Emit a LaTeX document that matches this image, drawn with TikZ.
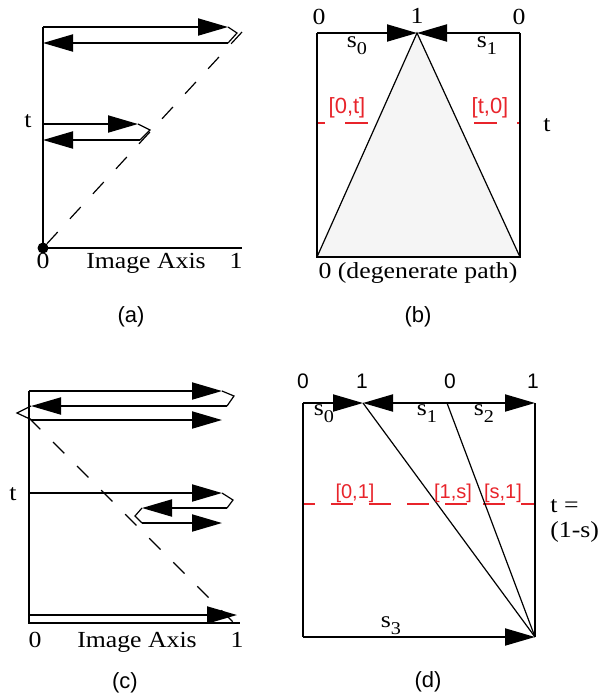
\documentclass[tikz,border=0pt]{standalone}
\usepackage{fontspec}
\setmainfont{Liberation Serif}[FakeStretch=1.12]
\setsansfont{Liberation Sans}
\usetikzlibrary{arrows.meta}
\definecolor{lblred}{RGB}{232,36,43}
\definecolor{trifill}{RGB}{245,245,245}
\newcommand\mysub[1]{\raisebox{-3.5pt}{\fontsize{9}{10}\selectfont #1}}
\begin{document}
\begin{tikzpicture}[x=0.5pt,y=-0.5pt,
  ln/.style={line width=1pt},
  thinln/.style={line width=0.6pt},
  arr/.style={line width=1pt,-{Triangle[length=15pt,width=8.5pt]}},
  axdash/.style={line width=0.6pt,dash pattern=on 8pt off 9pt},
  reddash/.style={line width=0.7pt,draw=lblred,dash pattern=on 11.5pt off 10pt,dash phase=7.5pt},
  reddashd/.style={line width=0.7pt,draw=lblred,dash pattern=on 11pt off 8pt,dash phase=5pt},
  serif/.style={font=\fontsize{11.5}{12}\selectfont,inner sep=0pt,anchor=base},
  sanslbl/.style={font=\sffamily\fontsize{10.5}{12}\selectfont,inner sep=0pt,anchor=base},
  redlbl/.style={font=\sffamily\fontsize{11}{12}\selectfont,text=lblred,inner sep=0pt,anchor=base},
  redlbld/.style={font=\sffamily\fontsize{10}{12}\selectfont,text=lblred,inner sep=0pt,anchor=base},
  caption/.style={font=\sffamily\fontsize{11}{12}\selectfont,inner sep=0pt}
]
\useasboundingbox (0,0) rectangle (600,698);

% ---------------- (a) ----------------
\coordinate (aT) at (43,27);
\coordinate (aO) at (43,248);
\coordinate (aX) at (242,248);
\coordinate (aD) at (242,32);
\coordinate (a1e) at (228,27);
\coordinate (a1k) at (237,33);
\coordinate (a1r) at (228,43);
\coordinate (a1l) at (43,43);
\coordinate (a2s) at (43,124);
\coordinate (a2e) at (138,124);
\coordinate (a2k) at (150,130);
\coordinate (a2r) at (140,140);
\coordinate (a2l) at (43,140);
\draw[axdash] (aD) -- (aO);
\draw[ln] (aT) -- (aO) -- (aX);
\node[circle,fill,inner sep=0pt,minimum size=5.5pt] (adot) at (aO) {};
\draw[arr] (aT) -- (a1e);
\draw[thinln] (a1e) -- (a1k) -- (a1r);
\draw[arr] (a1r) -- (a1l);
\draw[arr] (a2s) -- (a2e);
\draw[thinln] (a2e) -- (a2k) -- (a2r);
\draw[arr] (a2r) -- (a2l);
\node[serif] (at) at (28,127) {t};
\node[serif] (a0) at (43,268) {0};
\node[serif] (aia) at (146,268) {Image Axis};
\node[serif] (a1) at (236,268) {1};
\node[caption] (acap) at (131,317) {(a)};

% ---------------- (b) ----------------
\coordinate (bTL) at (317,33);
\coordinate (bTR) at (520,33);
\coordinate (bBL) at (317,257);
\coordinate (bBR) at (520,257);
\coordinate (bA) at (417,33);
\coordinate (bdl) at (317,123);
\coordinate (bdr) at (520,123);
\draw[reddash] (bdl) -- (bdr);
\filldraw[fill=trifill,thinln] (bBL) -- (bA) -- (bBR) -- cycle;
\draw[ln] (bTL) -- (bBL) -- (bBR) -- (bTR);
\draw[arr] (bTL) -- (bA);
\draw[arr] (bTR) -- (bA);
\node[serif] (b0l) at (319,24) {0};
\node[serif] (b1) at (417,23) {1};
\node[serif] (b0r) at (519,24) {0};
\node[serif] (bs0) at (357,47) {s\mysub{0}};
\node[serif] (bs1) at (487,47) {s\mysub{1}};
\node[redlbl] (b0t) at (347,113) {[0,t]};
\node[redlbl] (bt0) at (490,113) {[t,0]};
\node[serif] (bt) at (547,131) {t};
\node[serif] (bdeg) at (418,278) {0 (degenerate path)};
\node[caption] (bcap) at (418,317) {(b)};

% ---------------- (c) ----------------
\coordinate (cT) at (29,391);
\coordinate (cO) at (29,623);
\coordinate (cX) at (240,623);
\coordinate (c1e) at (222,391);
\coordinate (c1k) at (234,396);
\coordinate (c1r) at (227,406);
\coordinate (c1l) at (31,406);
\coordinate (c1k2) at (17,413);
\coordinate (c1s3) at (32,420);
\coordinate (c1e3) at (222,420);
\coordinate (c2s) at (29,493);
\coordinate (c2e) at (222,493);
\coordinate (c2k) at (233,500);
\coordinate (c2r) at (227,508);
\coordinate (c2l) at (142,508);
\coordinate (c2k2) at (135,516);
\coordinate (c2s3) at (142,523);
\coordinate (c2e3) at (222,523);
\coordinate (c3s) at (29,615);
\coordinate (c3e) at (237,615);
\coordinate (cDs) at (29,418);
\coordinate (cDe) at (234,623);
\draw[axdash] (cDs) -- (cDe);
\draw[ln] (cT) -- (cO) -- (cX);
\draw[arr] (cT) -- (c1e);
\draw[thinln] (c1e) -- (c1k) -- (c1r);
\draw[arr] (c1r) -- (c1l);
\draw[thinln] (c1l) -- (c1k2) -- (c1s3);
\draw[arr] (c1s3) -- (c1e3);
\draw[arr] (c2s) -- (c2e);
\draw[thinln] (c2e) -- (c2k) -- (c2r);
\draw[arr] (c2r) -- (c2l);
\draw[thinln] (c2l) -- (c2k2) -- (c2s3);
\draw[arr] (c2s3) -- (c2e3);
\draw[arr] (c3s) -- (c3e);
\node[serif] (ct) at (13,500) {t};
\node[serif] (c0) at (35,647) {0};
\node[serif] (cia) at (137,647) {Image Axis};
\node[serif] (c1) at (237,647) {1};
\node[caption] (ccap) at (125,683) {(c)};

% ---------------- (d) ----------------
\coordinate (dTL) at (303,403);
\coordinate (dTR) at (535,403);
\coordinate (dBL) at (303,637);
\coordinate (dBR) at (535,637);
\coordinate (d1) at (363,403);
\coordinate (d0) at (447,403);
\coordinate (ddl) at (303,504);
\coordinate (ddr) at (535,504);
\draw[reddashd] (ddl) -- (ddr);
\draw[ln] (dTL) -- (dBL);
\draw[ln] (dTR) -- (dBR);
\draw[thinln] (d1) -- (dBR);
\draw[thinln] (d0) -- (dBR);
\draw[arr] (dTL) -- (d1);
\draw[arr] (d0) -- (d1);
\draw[arr] (d0) -- (dTR);
\draw[arr] (dBL) -- (dBR);
\node[sanslbl] (dl0a) at (303,388) {0};
\node[sanslbl] (dl1a) at (362,388) {1};
\node[sanslbl] (dl0b) at (450,388) {0};
\node[sanslbl] (dl1b) at (533,388) {1};
\node[serif] (ds0) at (324,415) {s\mysub{0}};
\node[serif] (ds1) at (427,415) {s\mysub{1}};
\node[serif] (ds2) at (484,415) {s\mysub{2}};
\node[serif] (ds3) at (391,627) {s\mysub{3}};
\node[redlbld] (d01) at (355,498) {[0,1]};
\node[redlbld] (d1s) at (453,498) {[1,s]};
\node[redlbld] (ds1r) at (503,498) {[s,1]};
\node[serif,anchor=base west] (dteq) at (550,512) {t =};
\node[serif,anchor=base west] (d1ms) at (550,537) {(1-s)};
\node[caption] (dcap) at (428,682) {(d)};
\end{tikzpicture}
\end{document}
